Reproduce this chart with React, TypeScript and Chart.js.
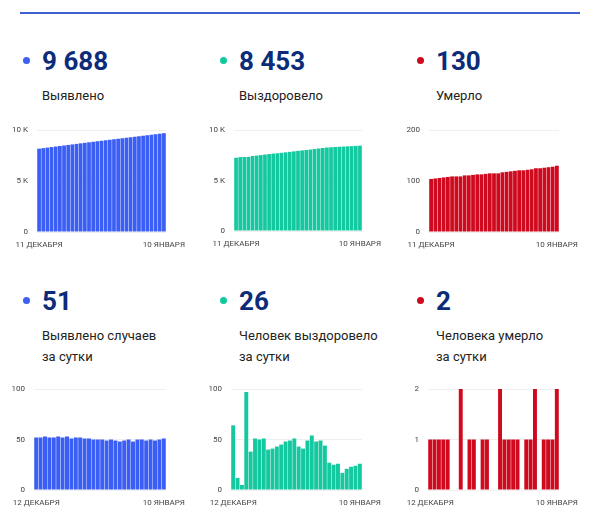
import React, { useEffect, useRef } from "react";
import { Chart, registerables } from "chart.js";

Chart.register(...registerables);

// ---------- DATA ----------
const datesCumulative = [
  "11 ДЕКАБРЯ", "12 ДЕКАБРЯ", "13 ДЕКАБРЯ", "14 ДЕКАБРЯ", "15 ДЕКАБРЯ", "16 ДЕКАБРЯ",
  "17 ДЕКАБРЯ", "18 ДЕКАБРЯ", "19 ДЕКАБРЯ", "20 ДЕКАБРЯ", "21 ДЕКАБРЯ", "22 ДЕКАБРЯ",
  "23 ДЕКАБРЯ", "24 ДЕКАБРЯ", "25 ДЕКАБРЯ", "26 ДЕКАБРЯ", "27 ДЕКАБРЯ", "28 ДЕКАБРЯ",
  "29 ДЕКАБРЯ", "30 ДЕКАБРЯ", "31 ДЕКАБРЯ", "1 ЯНВАРЯ", "2 ЯНВАРЯ", "3 ЯНВАРЯ",
  "4 ЯНВАРЯ", "5 ЯНВАРЯ", "6 ЯНВАРЯ", "7 ЯНВАРЯ", "8 ЯНВАРЯ", "9 ЯНВАРЯ", "10 ЯНВАРЯ",
];
const datesDaily = [
  "12 ДЕКАБРЯ", "13 ДЕКАБРЯ", "14 ДЕКАБРЯ", "15 ДЕКАБРЯ", "16 ДЕКАБРЯ",
  "17 ДЕКАБРЯ", "18 ДЕКАБРЯ", "19 ДЕКАБРЯ", "20 ДЕКАБРЯ", "21 ДЕКАБРЯ", "22 ДЕКАБРЯ",
  "23 ДЕКАБРЯ", "24 ДЕКАБРЯ", "25 ДЕКАБРЯ", "26 ДЕКАБРЯ", "27 ДЕКАБРЯ", "28 ДЕКАБРЯ",
  "29 ДЕКАБРЯ", "30 ДЕКАБРЯ", "31 ДЕКАБРЯ", "1 ЯНВАРЯ", "2 ЯНВАРЯ", "3 ЯНВАРЯ",
  "4 ЯНВАРЯ", "5 ЯНВАРЯ", "6 ЯНВАРЯ", "7 ЯНВАРЯ", "8 ЯНВАРЯ", "9 ЯНВАРЯ", "10 ЯНВАРЯ",
];

const casesTotal = [
  8170, 8222, 8274, 8327, 8379, 8431, 8484, 8536, 8589, 8640, 8692, 8744, 8795, 8846,
  8896, 8946, 8996, 9045, 9095, 9144, 9192, 9241, 9291, 9339, 9389, 9439, 9488, 9538,
  9587, 9637, 9688,
];
const recoveredTotal = [
  7251, 7315, 7327, 7332, 7429, 7467, 7518, 7568, 7619, 7659, 7700, 7743, 7788, 7836,
  7885, 7936, 7979, 8020, 8069, 8123, 8171, 8220, 8264, 8291, 8316, 8342, 8359, 8380,
  8403, 8427, 8453,
];
const deathsTotal = [
  104, 105, 106, 107, 108, 109, 109, 109, 111, 111, 112, 113, 113, 114, 115, 115, 115,
  117, 118, 119, 120, 121, 121, 122, 123, 125, 125, 126, 127, 128, 130,
];

const casesDaily = [
  52, 52, 53, 52, 52, 53, 52, 53, 51, 52, 52, 51, 51, 50, 50, 50, 49, 50, 49, 48, 49,
  50, 48, 50, 50, 49, 50, 49, 50, 51,
];
const recoveredDaily = [
  64, 12, 5, 97, 38, 51, 50, 51, 40, 41, 43, 45, 48, 49, 51, 43, 41, 49, 54, 48, 49, 44,
  27, 25, 26, 17, 21, 23, 24, 26,
];
const deathsDaily = [
  1, 1, 1, 1, 1, 0, 0, 2, 0, 1, 1, 0, 1, 1, 0, 0, 2, 1, 1, 1, 1, 0, 1, 1, 2, 0, 1, 1, 1, 2,
];

const headlineValues = ["9 688", "8 453", "130", "51", "26", "2"];

const BLUE = "#3b5ef5";
const GREEN = "#14c8a0";
const RED = "#cf0a1f";
const NAVY = "#0c2c7a";

type PanelSpec = {
  col: number;
  row: number;
  color: string;
  value: string;
  label: string[];
  data: number[];
  labels: string[];
  max: number;
  step: number;
  fmt: (v: number) => string;
  plot: { l: number; r: number; t: number; b: number };
};

const kFmt = (v: number) => (v === 0 ? "0" : `${v / 1000} K`);
const plainFmt = (v: number) => `${v}`;

const panels: PanelSpec[] = [
  { col: 0, row: 0, color: BLUE, value: headlineValues[0], label: ["Выявлено"], data: casesTotal, labels: datesCumulative, max: 10000, step: 5000, fmt: kFmt, plot: { l: 37, r: 166, t: 130, b: 232 } },
  { col: 1, row: 0, color: GREEN, value: headlineValues[1], label: ["Выздоровело"], data: recoveredTotal, labels: datesCumulative, max: 10000, step: 5000, fmt: kFmt, plot: { l: 234, r: 362, t: 130, b: 231 } },
  { col: 2, row: 0, color: RED, value: headlineValues[2], label: ["Умерло"], data: deathsTotal, labels: datesCumulative, max: 200, step: 100, fmt: plainFmt, plot: { l: 429, r: 559, t: 130, b: 232 } },
  { col: 0, row: 1, color: BLUE, value: headlineValues[3], label: ["Выявлено случаев", "за сутки"], data: casesDaily, labels: datesDaily, max: 100, step: 50, fmt: plainFmt, plot: { l: 34, r: 166, t: 389, b: 490 } },
  { col: 1, row: 1, color: GREEN, value: headlineValues[4], label: ["Человек выздоровело", "за сутки"], data: recoveredDaily, labels: datesDaily, max: 100, step: 50, fmt: plainFmt, plot: { l: 231, r: 362, t: 389, b: 490 } },
  { col: 2, row: 1, color: RED, value: headlineValues[5], label: ["Человека умерло", "за сутки"], data: deathsDaily, labels: datesDaily, max: 2, step: 1, fmt: plainFmt, plot: { l: 428, r: 559, t: 389, b: 490 } },
];

const FONT = "Roboto, 'Noto Sans', Arial, sans-serif";
const PAD_L = 32;
const PAD_R = 28;
const PAD_T = 8;
const PAD_B = 24;

function BarPanel({ spec }: { spec: PanelSpec }) {
  const ref = useRef<HTMLCanvasElement | null>(null);
  const { plot } = spec;
  const w = plot.r - plot.l + PAD_L + PAD_R;
  const h = plot.b - plot.t + PAD_T + PAD_B;

  useEffect(() => {
    if (!ref.current) return;
    const n = spec.labels.length;
    const chart = new Chart(ref.current, {
      type: "bar",
      data: {
        labels: spec.labels,
        datasets: [
          {
            data: spec.data,
            backgroundColor: spec.color,
            borderWidth: 0,
            barPercentage: 0.9,
            categoryPercentage: 1,
          },
        ],
      },
      options: {
        animation: false,
        responsive: false,
        maintainAspectRatio: false,
        layout: { padding: { left: 0, right: PAD_R, top: PAD_T, bottom: 0 } },
        plugins: { legend: { display: false }, tooltip: { enabled: false } },
        scales: {
          x: {
            grid: { display: false, drawTicks: false },
            border: { display: false },
            ticks: {
              autoSkip: false,
              maxRotation: 0,
              minRotation: 0,
              padding: 8,
              color: "#444",
              font: { family: FONT, size: 8 },
              callback: (_v: any, i: number) => (i === 0 || i === n - 1 ? spec.labels[i] : ""),
            },
            afterFit: (s: any) => {
              s.paddingLeft = 0;
              s.paddingRight = 0;
              s.height = PAD_B;
            },
          },
          y: {
            min: 0,
            max: spec.max,
            grid: { color: "#efefef", drawTicks: false },
            border: { display: false },
            ticks: {
              stepSize: spec.step,
              padding: 9,
              color: "#444",
              font: { family: FONT, size: 8 },
              callback: (v: any) => spec.fmt(Number(v)),
            },
            afterFit: (s: any) => {
              s.paddingTop = 0;
              s.paddingBottom = 0;
              s.width = PAD_L;
            },
          },
        },
      } as any,
    });
    return () => chart.destroy();
  }, [spec]);

  return (
    <canvas
      ref={ref}
      width={w}
      height={h}
      style={{ position: "absolute", left: plot.l - PAD_L, top: plot.t - PAD_T, width: w, height: h }}
    />
  );
}

function Header({ spec }: { spec: PanelSpec }) {
  const x = 42 + spec.col * 197;
  const dotX = 26 + spec.col * 197;
  const y0 = spec.row === 0 ? 0 : 240;
  return (
    <>
      <div
        style={{
          position: "absolute",
          left: dotX - 3.5,
          top: y0 + 56.5,
          width: 7,
          height: 7,
          borderRadius: "50%",
          background: spec.color,
        }}
      />
      <div
        style={{
          position: "absolute",
          left: x,
          top: y0 + 47.5,
          font: `bold 26px ${FONT}`,
          lineHeight: "26px",
          color: NAVY,
          whiteSpace: "nowrap",
        }}
      >
        {spec.value}
      </div>
      <div
        style={{
          position: "absolute",
          left: x,
          top: spec.row === 0 ? 85 : 325,
          font: `13px ${FONT}`,
          lineHeight: "21px",
          color: "#222",
          whiteSpace: "nowrap",
        }}
      >
        {spec.label.map((l, i) => (
          <div key={i}>{l}</div>
        ))}
      </div>
    </>
  );
}

export default function App() {
  return (
    <div
      style={{
        position: "absolute",
        left: 0,
        top: 0,
        width: 598,
        height: 525,
        overflow: "hidden",
        background: "#fff",
        fontFamily: FONT,
      }}
    >
      <div style={{ position: "absolute", left: 20, top: 12, width: 560, height: 2, background: "#4060d0" }} />
      {panels.map((p, i) => (
        <React.Fragment key={i}>
          <Header spec={p} />
          <BarPanel spec={p} />
        </React.Fragment>
      ))}
    </div>
  );
}
